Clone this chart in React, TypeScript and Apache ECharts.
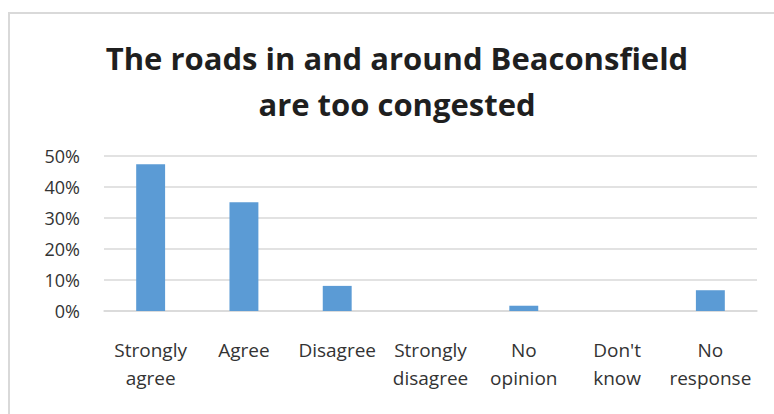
import React, { useEffect, useRef } from "react";
import * as echarts from "echarts";

const titleLines = ["The roads in and around Beaconsfield", "are too congested"];
const categories = [
  "Strongly\nagree",
  "Agree",
  "Disagree",
  "Strongly\ndisagree",
  "No\nopinion",
  "Don't\nknow",
  "No\nresponse",
];
const shares = [0.473, 0.351, 0.081, 0, 0.017, 0, 0.067];
const yTicks = [0, 0.1, 0.2, 0.3, 0.4, 0.5];

const FONT = "'Open Sans', 'Noto Sans', sans-serif";

export default function App() {
  const ref = useRef<HTMLDivElement>(null);
  useEffect(() => {
    if (!ref.current) return;
    const chart = echarts.init(ref.current, undefined, { renderer: "svg" });
    chart.setOption({
      animation: false,
      backgroundColor: "#ffffff",
      textStyle: { fontFamily: FONT },
      title: {
        text: titleLines.join("\n"),
        left: 397,
        textAlign: "center",
        top: 35,
        padding: 0,
        textStyle: {
          fontFamily: FONT,
          fontWeight: 700,
          fontSize: 31,
          lineHeight: 46,
          color: "#1f1f1f",
        },
      },
      graphic: [
        {
          type: "rect",
          shape: { x: 9, y: 13, width: 800, height: 430 },
          style: { fill: "none", stroke: "#d9d9d9", lineWidth: 2 },
          silent: true,
          z: -1,
        },
      ],
      grid: { left: 104, right: 17, top: 156, bottom: 103 },
      xAxis: {
        type: "category",
        data: categories,
        axisLine: { show: true, lineStyle: { color: "#d9d9d9", width: 1.5 } },
        axisTick: { show: false },
        axisLabel: {
          interval: 0,
          margin: 25,
          fontSize: 19,
          lineHeight: 28,
          fontWeight: 500,
          color: "#333333",
          fontFamily: FONT,
        },
      },
      yAxis: {
        type: "value",
        min: yTicks[0],
        max: yTicks[yTicks.length - 1],
        interval: 0.1,
        axisLine: { show: false },
        axisTick: { show: false },
        splitLine: { lineStyle: { color: "#d9d9d9", width: 1.5 } },
        axisLabel: {
          margin: 24,
          fontSize: 18,
          fontWeight: 500,
          color: "#333333",
          fontFamily: FONT,
          formatter: (v: number) => `${Math.round(v * 100)}%`,
        },
      },
      series: [
        {
          type: "bar",
          data: shares,
          barWidth: "31%",
          itemStyle: { color: "#5b9bd5" },
        },
      ],
    });
    return () => chart.dispose();
  }, []);
  return (
    <div
      ref={ref}
      style={{ position: "fixed", left: 0, top: 0, width: 774, height: 414 }}
    />
  );
}
